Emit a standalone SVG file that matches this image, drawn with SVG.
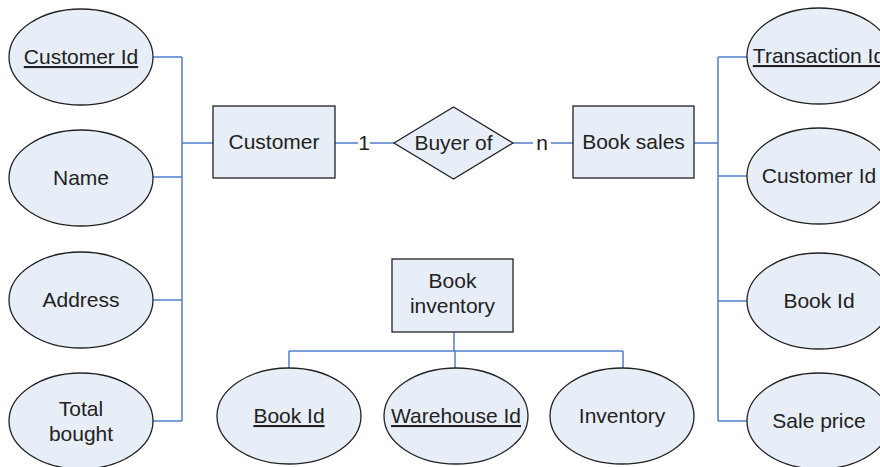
<svg xmlns="http://www.w3.org/2000/svg" width="880" height="467" viewBox="0 0 880 467">
<style>
.shape{fill:#e8eef7;stroke:#222;stroke-width:1.3}
.t{font-family:"Liberation Sans",Arial,sans-serif;font-size:21px;fill:#222;text-anchor:middle}
.u{text-decoration:underline}
.c{fill:none;stroke:#4f7fc8;stroke-width:1.5}
</style>
<rect width="880" height="467" fill="#fff"/>
<g id="connectors">
<path class="c" d="M153 57H182M153 177H182M153 300H182M153 421H182M182 57V421M182 143H213"/>
<path class="c" d="M335 143H358M370 143H394M513 143H533M551 143H573"/>
<path class="c" d="M694 143H718M718 57V421M718 57H747M718 176H747M718 301H747M718 421H747"/>
<path class="c" d="M454 332V351M289 351H623M289 351V368M455 351V368M623 351V368"/>
</g>
<g id="lbl1"><text class="t" x="364" y="150">1</text></g>
<g id="lbln"><text class="t" x="542" y="150">n</text></g>
<g id="customer"><rect class="shape" x="213" y="106" width="122" height="72"/><text class="t" x="274" y="149">Customer</text></g>
<g id="buyerof"><polygon class="shape" points="394,143 453.5,107 513,143 453.5,179"/><text class="t" x="453.5" y="150">Buyer of</text></g>
<g id="booksales"><rect class="shape" x="573" y="106" width="121" height="72"/><text class="t" x="633.5" y="149">Book sales</text></g>
<g id="bookinventory"><rect class="shape" x="392" y="259" width="121" height="73"/><text class="t" x="452.5" y="288">Book</text><text class="t" x="452.5" y="313">inventory</text></g>
<g id="customerid"><ellipse class="shape" cx="81" cy="57" rx="72" ry="48"/><text class="t u" x="81" y="64">Customer Id</text></g>
<g id="name"><ellipse class="shape" cx="81" cy="178" rx="72" ry="48"/><text class="t" x="81" y="185">Name</text></g>
<g id="address"><ellipse class="shape" cx="81" cy="300" rx="72" ry="48"/><text class="t" x="81" y="307">Address</text></g>
<g id="totalbought"><ellipse class="shape" cx="81" cy="421" rx="72" ry="48"/><text class="t" x="81" y="416">Total</text><text class="t" x="81" y="441">bought</text></g>
<g id="transactionid"><ellipse class="shape" cx="819" cy="56" rx="72" ry="48"/><text class="t u" x="819" y="63">Transaction Id</text></g>
<g id="customerid2"><ellipse class="shape" cx="819" cy="176" rx="72" ry="48"/><text class="t" x="819" y="183">Customer Id</text></g>
<g id="bookid2"><ellipse class="shape" cx="819" cy="301" rx="72" ry="48"/><text class="t" x="819" y="308">Book Id</text></g>
<g id="saleprice"><ellipse class="shape" cx="819" cy="421" rx="72" ry="48"/><text class="t" x="819" y="428">Sale price</text></g>
<g id="bookid"><ellipse class="shape" cx="289" cy="416" rx="72" ry="48"/><text class="t u" x="289" y="423">Book Id</text></g>
<g id="warehouseid"><ellipse class="shape" cx="456" cy="416" rx="72" ry="48"/><text class="t u" x="456" y="423">Warehouse Id</text></g>
<g id="inventory"><ellipse class="shape" cx="622" cy="416" rx="72" ry="48"/><text class="t" x="622" y="423">Inventory</text></g>
</svg>
